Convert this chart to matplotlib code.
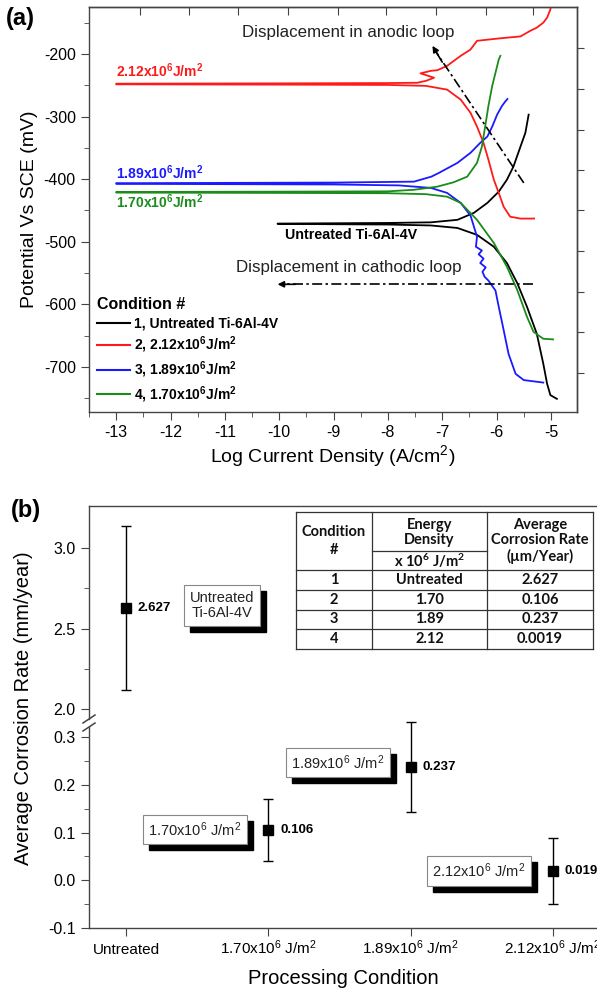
import matplotlib.pyplot as plt
from matplotlib.lines import Line2D

plt.rcParams['font.family'] = ['Liberation Sans', 'DejaVu Sans']
plt.rcParams['mathtext.default'] = 'regular'
plt.rcParams['axes.linewidth'] = 1.0
plt.rcParams['axes.unicode_minus'] = False

W, H = 597, 990
SPINE = '#444444'

# ---------------- (a) Tafel curves -------------------------------------
# log current density (A/cm2) and potential (mV vs SCE), traced from the end
# of the cathodic branch back to Ecorr and then out along the anodic branch
untreated_logi = [-4.89, -5.01, -5.07, -5.14, -5.26, -5.44, -5.62, -5.81, -6.05, -6.36,
                  -6.72, -7.21, -8.0, -9.0, -10.03,
                  -10.03, -9.0, -8.0, -7.21, -6.72, -6.42, -6.17, -5.96, -5.81, -5.69,
                  -5.56, -5.47, -5.41]
untreated_E = [-751, -745, -727, -695, -647, -604, -566, -534, -508, -489,
               -478, -474, -472.5, -472, -471.5,
               -471, -470.5, -470, -469, -465, -454, -438, -420, -401, -380,
               -348, -326, -297]

e212_logi = [-5.31, -5.56, -5.75, -5.87, -5.96, -6.05, -6.15, -6.24, -6.36, -6.48,
             -6.66, -6.91, -7.3, -8.0, -10.0, -13.0,
             -13.0, -10.0, -8.0, -7.46, -7.3, -7.15, -7.40, -7.21, -7.09, -6.91,
             -6.66, -6.48, -6.36, -5.93, -5.56, -5.38, -5.26, -5.14, -5.07, -5.01, -4.99]
e212_E = [-463, -463, -460, -444, -422, -401, -369, -342, -316, -294,
          -273, -257, -251, -249.5, -249, -248.5,
          -247.5, -247, -246.5, -246, -243, -238, -231, -227, -226, -219,
          -203, -193, -179, -175, -172, -163, -158, -150, -142, -129, -110]

e189_logi = [-5.14, -5.50, -5.65, -5.78, -5.87, -5.96, -6.02, -6.15, -6.22, -6.26,
             -6.20, -6.30, -6.24, -6.33, -6.27, -6.38, -6.36, -6.48, -6.66, -6.91,
             -7.21, -7.8, -9.0, -11.0, -13.0,
             -13.0, -11.0, -9.0, -7.52, -7.2, -7.06, -6.72, -6.48, -6.30, -6.17,
             -6.08, -5.99, -5.90, -5.84, -5.80]
e189_E = [-725, -721, -711, -679, -641, -604, -578, -562, -556, -548,
          -541, -534, -527, -520, -514, -508, -492, -458, -438, -422,
          -414, -410, -408.5, -408, -407.5,
          -406.5, -406, -405.5, -404, -396, -390, -374, -358, -342, -332,
          -316, -297, -283, -276, -272]

e170_logi = [-4.96, -5.14, -5.32, -5.44, -5.62, -5.81, -6.05, -6.36, -6.66, -6.91,
             -7.3, -8.0, -10.0, -13.0,
             -13.0, -10.0, -8.0, -7.52, -7.09, -6.79, -6.54, -6.36, -6.27, -6.21,
             -6.15, -6.08, -6.02, -5.96, -5.93]
e170_E = [-656, -655, -644, -620, -577, -540, -502, -465, -438, -428,
          -424, -422.5, -422, -421.5,
          -420.5, -420, -419.5, -417, -412, -405, -396, -374, -348, -316,
          -283, -251, -230, -209, -203]

curve_names = ['1, Untreated Ti-6Al-4V', '2, 2.12x10$^6$J/m$^2$',
               '3, 1.89x10$^6$J/m$^2$', '4, 1.70x10$^6$J/m$^2$']
curve_colors = ['black', '#ff1a1a', '#1a1aff', '#1a8c1a']

# ---------------- (b) corrosion rate ------------------------------------
conditions = ['Untreated', '1.70x10$^6$ J/m$^2$', '1.89x10$^6$ J/m$^2$', '2.12x10$^6$ J/m$^2$']
box_labels = ['Untreated\nTi-6Al-4V', '1.70x10$^6$ J/m$^2$', '1.89x10$^6$ J/m$^2$',
              '2.12x10$^6$ J/m$^2$']
rate = [2.627, 0.106, 0.237, 0.019]
rate_err = [0.508, 0.065, 0.094, 0.069]
rate_text = ['2.627', '0.106', '0.237', '0.019']

table_cond = ['1', '2', '3', '4']
table_energy = ['Untreated', '1.70', '1.89', '2.12']
table_rate = ['2.627', '0.106', '0.237', '0.0019']


def px_axes(fig, left, top, right, bottom):
    return fig.add_axes([left / W, 1 - bottom / H, (right - left) / W, (bottom - top) / H])


fig = plt.figure(figsize=(W / 100, H / 100), dpi=100)

# ======================= panel (a) =======================
ax = px_axes(fig, 89, 7, 577, 412)
for xs, ys, c in zip([untreated_logi, e212_logi, e189_logi, e170_logi],
                     [untreated_E, e212_E, e189_E, e170_E], curve_colors):
    ax.plot(xs, ys, color=c, lw=1.3)

ax.set_xlim(-13.47, -4.52)
ax.set_ylim(-772, -125)
ax.set_xticks(range(-13, -4))
ax.set_xticks([-13.5 + 0.5 * k for k in range(18)], minor=True)
ax.set_yticks(range(-700, -199, 100))
ax.set_yticks(range(-750, -149, 50), minor=True)
ax.tick_params(which='both', direction='out', labelsize=11.5, color=SPINE)
ax.tick_params(which='major', length=6)
ax.tick_params(which='minor', length=3.5)
for s in ax.spines.values():
    s.set_color(SPINE)

# the top and right axes carry their own unlabelled ticks
top = ax.secondary_xaxis('top')
top.set_xticks([-12.57, -11.66, -10.75, -9.84, -8.92, -8.04, -7.12, -6.2, -5.33], labels=[])
top.tick_params(direction='in', length=6, color=SPINE)
top.spines['top'].set_color(SPINE)
right = ax.secondary_yaxis('right')
right.set_yticks([-191, -256, -321, -385, -450, -515, -580, -644, -709], labels=[])
right.tick_params(direction='out', length=5, color=SPINE)
right.spines['right'].set_color(SPINE)

ax.set_xlabel('Log Current Density (A/cm$^2$)', fontsize=14, labelpad=2)
ax.set_ylabel('Potential Vs SCE (mV)', fontsize=14, labelpad=4)

# curve labels
ax.text(-13.0, -227, '2.12x10$^6$J/m$^2$', color=curve_colors[1], fontsize=10,
        fontweight='bold', va='center')
ax.text(-13.0, -390, '1.89x10$^6$J/m$^2$', color=curve_colors[2], fontsize=10,
        fontweight='bold', va='center')
ax.text(-13.0, -436, '1.70x10$^6$J/m$^2$', color=curve_colors[3], fontsize=10,
        fontweight='bold', va='center')
ax.text(-9.9, -489, 'Untreated Ti-6Al-4V', color='black', fontsize=10.3,
        fontweight='bold', va='center')

# displacement arrows
dashdot = (0, (6, 2, 1.5, 2))
ax.plot([-5.50, -7.12], [-406, -196], color='black', lw=1.2, linestyle=dashdot)
ax.annotate('', xy=(-7.18, -187), xytext=(-7.0, -213),
            arrowprops=dict(arrowstyle='-|>', color='black', lw=1.2,
                            mutation_scale=9, shrinkA=0, shrinkB=0))
ax.text(-10.68, -166, 'Displacement in anodic loop', fontsize=12.2, va='center',
        color='#222222')
ax.plot([-5.33, -9.9], [-568, -568], color='black', lw=1.2, linestyle=dashdot)
ax.annotate('', xy=(-10.03, -568), xytext=(-9.7, -568),
            arrowprops=dict(arrowstyle='-|>', color='black', lw=1.2,
                            mutation_scale=9, shrinkA=0, shrinkB=0))
ax.text(-10.8, -541, 'Displacement in cathodic loop', fontsize=12.2, va='center',
        color='#222222')

handles = [Line2D([], [], color=c, lw=1.5) for c in curve_colors]
leg = ax.legend(handles, curve_names, loc='lower left', bbox_to_anchor=(0.016, 0.018),
                frameon=False, title='Condition #', alignment='left',
                prop={'weight': 'bold', 'size': 10},
                title_fontproperties={'weight': 'bold', 'size': 11.5},
                handlelength=2.4, handletextpad=0.3, labelspacing=0.3,
                borderpad=0, borderaxespad=0)

fig.text(6 / W, 1 - 18 / H, '(a)', fontsize=17, fontweight='bold', va='center')

# ======================= panel (b) =======================
ax_hi = px_axes(fig, 89, 506, 597, 719)
ax_lo = px_axes(fig, 89, 727, 597, 928)
xpos = list(range(len(conditions)))

ax_hi.errorbar(xpos[:1], rate[:1], yerr=rate_err[:1], fmt='s', color='black',
               ms=7, capsize=3.5, elinewidth=1, capthick=1)
ax_lo.errorbar(xpos[1:], rate[1:], yerr=rate_err[1:], fmt='s', color='black',
               ms=7, capsize=3.5, elinewidth=1, capthick=1, clip_on=False)

for a in (ax_hi, ax_lo):
    a.set_xlim(-0.26, 3.31)
    a.spines['right'].set_visible(False)
    for s in a.spines.values():
        s.set_color(SPINE)
    a.tick_params(which='both', direction='out', labelsize=11.5, color=SPINE)
    a.tick_params(which='major', length=6)
    a.tick_params(which='minor', length=3.5)

ax_hi.set_ylim(1.938, 3.261)
ax_hi.set_yticks([2.0, 2.5, 3.0])
ax_hi.set_yticks([2.25, 2.75], minor=True)
ax_hi.set_yticklabels(['2.0', '2.5', '3.0'])
ax_hi.spines['bottom'].set_visible(False)
ax_hi.set_xticks([])

ax_lo.set_ylim(-0.1, 0.321)
ax_lo.set_yticks([-0.1, 0.0, 0.1, 0.2, 0.3])
ax_lo.set_yticks([-0.05, 0.05, 0.15, 0.25], minor=True)
ax_lo.set_yticklabels(['-0.1', '0.0', '0.1', '0.2', '0.3'])
ax_lo.spines['top'].set_visible(False)
ax_lo.set_xticks(xpos)
ax_lo.set_xticklabels(conditions, fontsize=11)
for lbl in ax_lo.get_xticklabels():
    lbl.set_verticalalignment('baseline')
ax_lo.tick_params(axis='x', pad=13)
ax_lo.set_xlabel('Processing Condition', fontsize=14.5, labelpad=8)

fig.text(24 / W, 1 - 708 / H, 'Average Corrosion Rate (mm/year)', fontsize=14.5,
         rotation=90, ha='center', va='center')
fig.text(11 / W, 1 - 510 / H, '(b)', fontsize=17, fontweight='bold', va='center')

# value labels and shadowed boxes (offsets in points, 1 px = 0.72 pt)
box_offsets = [(96, 2.7), (-73.4, 0), (-72.7, 4.7), (-74, 0)]
for i, (x, y) in enumerate(zip(xpos, rate)):
    a = ax_hi if i == 0 else ax_lo
    a.annotate(rate_text[i], xy=(x, y), xytext=(12 * 0.72, 0), textcoords='offset points',
               fontsize=9.5, fontweight='bold', va='center', ha='left')
    dx, dy = box_offsets[i]
    a.annotate(box_labels[i], xy=(x, y), xytext=((dx + 6) * 0.72, (dy - 6) * 0.72),
               textcoords='offset points', ha='center', va='center', fontsize=10.5,
               color='black', linespacing=1.15,
               bbox=dict(boxstyle='square,pad=0.38', fc='black', ec='black'))
    a.annotate(box_labels[i], xy=(x, y), xytext=(dx * 0.72, dy * 0.72),
               textcoords='offset points', ha='center', va='center', fontsize=10.5,
               color='#222222', linespacing=1.15,
               bbox=dict(boxstyle='square,pad=0.38', fc='white', ec='#888888', lw=0.8))

# break marks on the left axis
ov = fig.add_axes([0, 0, 1, 1])
ov.set_xlim(0, W)
ov.set_ylim(H, 0)
ov.axis('off')
for yb in (719, 727):
    ov.plot([83, 95], [yb + 4, yb - 4], color=SPINE, lw=1.1)

# inset table
tl, tr, c1, c2 = 296, 593, 372, 487
tt, tsub, thead = 512, 551, 570
row_lines = [570, 590, 609.5, 629, 648.5]
lc = '#333333'
for xv in (tl, c1, c2, tr):
    ov.plot([xv, xv], [tt, row_lines[-1]], color=lc, lw=0.9)
for yv in [tt] + row_lines:
    ov.plot([tl, tr], [yv, yv], color=lc, lw=0.9)
ov.plot([c1, c2], [tsub, tsub], color=lc, lw=0.9)

tfont = dict(family=['Lato', 'DejaVu Sans'], fontweight='bold', fontsize=10.5,
             ha='center', va='center', color='#111111')
ov.text((tl + c1) / 2, (tt + thead) / 2, 'Condition\n#', linespacing=1.3, **tfont)
ov.text((c1 + c2) / 2, (tt + tsub) / 2 + 1, 'Energy\nDensity', linespacing=1.1, **tfont)
ov.text((c1 + c2) / 2, (tsub + thead) / 2, 'x 10$^6$ J/m$^2$', **tfont)
ov.text((c2 + tr) / 2, (tt + thead) / 2, 'Average\nCorrosion Rate\n(\u00b5m/Year)',
        linespacing=1.1, **tfont)
for k in range(len(table_cond)):
    yc = (row_lines[k] + row_lines[k + 1]) / 2
    ov.text((tl + c1) / 2, yc, table_cond[k], **tfont)
    ov.text((c1 + c2) / 2, yc, table_energy[k], **tfont)
    ov.text((c2 + tr) / 2, yc, table_rate[k], **tfont)

fig.savefig('out.png', dpi=100)
